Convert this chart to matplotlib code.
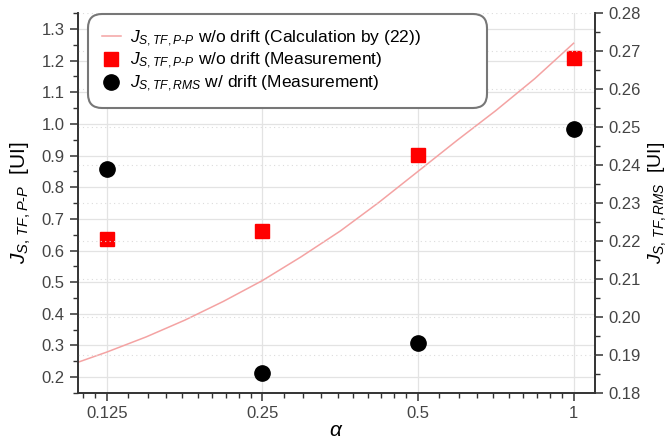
import matplotlib
matplotlib.use("Agg")
import matplotlib.pyplot as plt
from matplotlib.ticker import FixedLocator, NullFormatter
import numpy as np

plt.rcParams['font.family'] = ['Liberation Sans', 'DejaVu Sans']
plt.rcParams['mathtext.fontset'] = 'custom'
plt.rcParams['mathtext.rm'] = 'Liberation Sans'
plt.rcParams['mathtext.it'] = 'Liberation Sans:italic'

# alpha values of the measurements
alpha = [0.125, 0.25, 0.5, 1.0]
# peak-to-peak jitter w/o drift, measured (left axis)
jpp_meas = [0.635, 0.662, 0.902, 1.21]
# RMS jitter with drift, measured (right axis)
jrms_meas = [0.2391, 0.1852, 0.1932, 0.2495]

# calculated curve
alpha_calc = [0.110, 0.125, 0.149, 0.177, 0.210, 0.25, 0.297, 0.354, 0.420,
              0.5, 0.595, 0.707, 0.841, 1.0]
jpp_calc = [0.247, 0.279, 0.327, 0.380, 0.439, 0.505, 0.580, 0.662, 0.752,
            0.850, 0.948, 1.042, 1.143, 1.255]

xticks = [0.125, 0.25, 0.5, 1]
xticklabels = ['0.125', '0.25', '0.5', '1']

fig = plt.figure(figsize=(6.67, 4.4), dpi=100)
ax = fig.add_axes([0.117, 0.107, 0.775, 0.863])
ax2 = ax.twinx()

ax.set_xscale('log', base=2)
ax.set_xlim(0.110, 1.10)
ax.set_ylim(0.15, 1.35)
ax2.set_ylim(0.18, 0.28)

ax.set_xticks(xticks)
ax.set_xticklabels(xticklabels)
minors = [b * (1 + 0.1 * k) for b in [0.0625, 0.125, 0.25, 0.5] for k in range(1, 10)]
ax.xaxis.set_minor_locator(FixedLocator(minors))
ax.xaxis.set_minor_formatter(NullFormatter())

ax.set_yticks(np.arange(0.2, 1.31, 0.1))
ax.set_yticks(np.arange(0.15, 1.351, 0.05), minor=True)
ax2.set_yticks(np.arange(0.18, 0.2801, 0.01))
ax2.set_yticks(np.arange(0.185, 0.28, 0.01), minor=True)
ax.yaxis.set_major_formatter(plt.FormatStrFormatter('%.1f'))
ax2.yaxis.set_major_formatter(plt.FormatStrFormatter('%.2f'))

# grids
for y in np.arange(0.19, 0.28, 0.01):
    ax2.axhline(y, color='#dcdcdc', lw=0.8, ls=(0, (1, 3)), zorder=0)
ax.grid(True, which='major', axis='both', color='#e3e3e3', lw=0.9)
ax.set_axisbelow(True)

for a in (ax, ax2):
    a.spines['top'].set_visible(False)
    for s in a.spines.values():
        s.set_linewidth(1.2)
        s.set_color('#333333')
    a.tick_params(which='both', direction='out', labelsize=12, colors='#333333',
                  labelcolor='#444444')
    a.tick_params(which='major', length=6, width=1.1)
    a.tick_params(which='minor', length=3.5, width=1.0)

l1, = ax.plot(alpha_calc, jpp_calc, color='#f4a3a3', lw=1.1,
              label=r'$J_{S,TF,P\text{-}P}$ w/o drift (Calculation by (22))')
l2, = ax.plot(alpha, jpp_meas, 's', color='#ff0000', ms=10, mec='#ff0000',
              label=r'$J_{S,TF,P\text{-}P}$ w/o drift (Measurement)')
l3, = ax2.plot(alpha, jrms_meas, 'o', color='black', ms=11,
               label=r'$J_{S,TF,RMS}$ w/ drift (Measurement)')

ax.set_ylabel(r'$J_{S,\,TF,P\text{-}P}$  [UI]', fontsize=15, labelpad=6)
ax2.set_ylabel(r'$J_{S,\,TF,RMS}$  [UI]', fontsize=14, labelpad=4)
ax.set_xlabel(r'$\alpha$', fontsize=15, labelpad=0)

leg = ax2.legend(handles=[l1, l2, l3], loc='upper left',
                 bbox_to_anchor=(0.019, 0.76, 0.772, 0.237), mode='expand',
                 borderaxespad=0, fontsize=12.5, frameon=True, fancybox=True,
                 handlelength=1.1, handletextpad=0.5, labelspacing=0.15,
                 borderpad=0.8)
leg.get_frame().set_edgecolor('#777777')
leg.get_frame().set_linewidth(1.5)
leg.get_frame().set_alpha(1)
leg.get_frame().set_boxstyle('round,pad=0,rounding_size=0.8')

fig.savefig('out.png', dpi=100)
